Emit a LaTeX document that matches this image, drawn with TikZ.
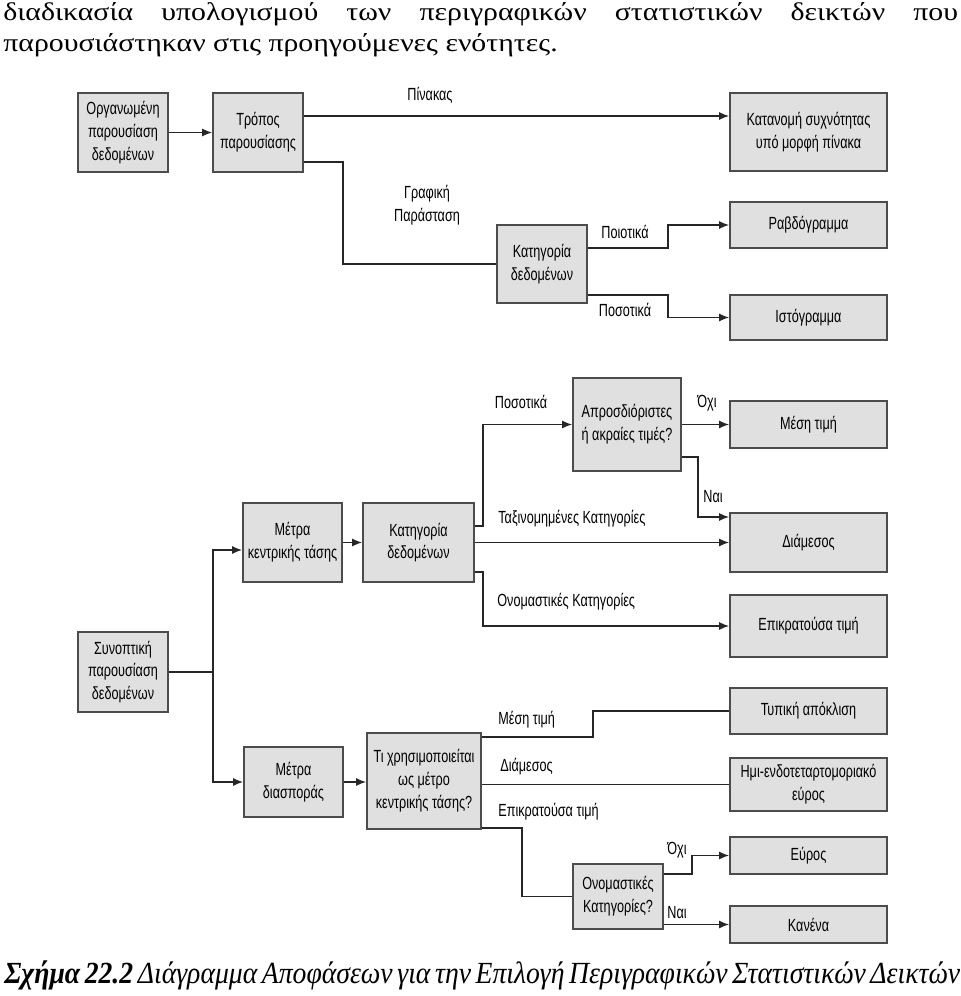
\documentclass[tikz,border=0pt]{standalone}
\usepackage{fontspec}
\setmainfont{Liberation Serif}
\newfontfamily\boxfont[FakeStretch=0.72]{Liberation Sans}
\newfontfamily\parafont[FakeStretch=1.17]{Liberation Serif}
\newfontfamily\figfont[FakeStretch=0.9]{Liberation Serif}
\usetikzlibrary{arrows.meta}
\usetikzlibrary{positioning}

\begin{document}
\begin{tikzpicture}[x=0.02cm, y=-0.02cm,
    box/.style={draw=black!70, fill=black!12, line width=1pt, align=center, inner sep=1pt,
      font=\boxfont\fontsize{10}{13}\selectfont},
    wire/.style={line width=0.8pt, black!85},
    arr/.style={wire, -{Latex[length=2mm, width=1.6mm]}},
    lbl/.style={inner sep=0pt, font=\boxfont\fontsize{10}{13}\selectfont},
    capt/.style={inner sep=0pt, anchor=base west, font=\parafont\fontsize{14.5}{17}\selectfont}]
              \useasboundingbox (0,0) rectangle (960,996);

              \node[capt] (top1) at (3,21) {\makebox[19.1cm][s]{διαδικασία υπολογισμού των περιγραφικών στατιστικών δεικτών που}};
              \node[capt] (top2) at (3,52) {παρουσιάστηκαν στις προηγούμενες ενότητες.};
              \node[capt, font=\figfont\fontsize{17.5}{18}\selectfont\itshape] (fig) at (4,983) {\makebox[19.08cm][s]{\textbf{Σχήμα 22.2} Διάγραμμα Αποφάσεων για την Επιλογή Περιγραφικών Στατιστικών Δεικτών}};

              \node[box, minimum width=1.8cm, minimum height=1.58cm] (org) at (123,132.5) {Οργανωμένη\\παρουσίαση\\δεδομένων};
              \node[box, minimum width=1.8cm, minimum height=1.58cm] (trop) at (258,132.5) {Τρόπος\\παρουσίασης};
              \node[box, minimum width=3.14cm, minimum height=1.56cm] (katan) at (808.5,132) {Κατανομή συχνότητας\\υπό μορφή πίνακα};
              \node[box, minimum width=1.8cm, minimum height=1.56cm] (kat1) at (542,264) {Κατηγορία\\δεδομένων};
              \node[box, minimum width=3.14cm, minimum height=0.92cm] (rabd) at (808.5,225) {Ραβδόγραμμα};
              \node[box, minimum width=3.14cm, minimum height=0.9cm] (isto) at (808.5,317.5) {Ιστόγραμμα};

              \node[box, minimum width=2.16cm, minimum height=1.86cm] (akr) at (627,424.5) {Απροσδιόριστες\\ή ακραίες τιμές?};
              \node[box, minimum width=3.14cm, minimum height=0.94cm] (mesi) at (808.5,424.5) {Μέση τιμή};
              \node[box, minimum width=1.98cm, minimum height=1.58cm] (kent) at (292.5,542.5) {Μέτρα\\κεντρικής τάσης};
              \node[box, minimum width=2.22cm, minimum height=1.58cm] (kat2) at (418.5,542.5) {Κατηγορία\\δεδομένων};
              \node[box, minimum width=3.14cm, minimum height=1.18cm] (diam) at (808.5,542.5) {Διάμεσος};
              \node[box, minimum width=3.14cm, minimum height=1.24cm] (epik) at (808.5,626) {Επικρατούσα τιμή};
              \node[box, minimum width=1.8cm, minimum height=1.6cm] (syn) at (123,672) {Συνοπτική\\παρουσίαση\\δεδομένων};
              \node[box, minimum width=3.14cm, minimum height=0.92cm] (typ) at (808.5,711) {Τυπική απόκλιση};
              \node[box, minimum width=1.98cm, minimum height=1.4cm] (disp) at (293.5,782) {Μέτρα\\διασποράς};
              \node[box, minimum width=2.28cm, minimum height=1.92cm] (xrisi) at (424,781) {Τι χρησιμοποιείται\\ως μέτρο\\κεντρικής τάσης?};
              \node[box, minimum width=3.14cm, minimum height=1.06cm] (hmi) at (808.5,784.5) {Ημι-ενδοτεταρτομοριακό\\εύρος};
              \node[box, minimum width=1.8cm, minimum height=1.3cm] (onom) at (618,896.5) {Ονομαστικές\\Κατηγορίες?};
              \node[box, minimum width=3.14cm, minimum height=0.74cm] (evr) at (808.5,855.5) {Εύρος};
              \node[box, minimum width=3.14cm, minimum height=0.74cm] (kan) at (808.5,924.5) {Κανένα};

              \draw[arr] (org) -- (trop);
              \draw[arr] (trop.east |- 0,116) -- (katan.west |- 0,116);
              \node[lbl] (lpin) at (430,95) {Πίνακας};
              \draw[wire] (trop.east |- 0,162) -| (343,264) -- (kat1.west);
              \node[lbl, align=center] (lgraf) at (427,205) {Γραφική\\Παράσταση};
              \draw[arr] (kat1.east |- 0,248) -| (668,225) -- (rabd.west);
              \node[lbl] (lpoi) at (625,232) {Ποιοτικά};
              \draw[arr] (kat1.east |- 0,295) -| (668,317.5) -- (isto.west);
              \node[lbl] (lpos1) at (625,310) {Ποσοτικά};

              \coordinate (split) at (213,672);
              \draw[wire] (syn.east) -- (split);
              \draw[arr] (split) |- (kent.west |- 0,550);
              \draw[arr] (split) |- (disp.west);
              \draw[arr] (kent) -- (kat2);
              \draw[arr] (kat2.east |- 0,526) -| (483,424.5) -- (akr.west);
              \node[lbl] (lpos2) at (521,402) {Ποσοτικά};
              \draw[arr] (kat2) -- (diam);
              \node[lbl, anchor=west] (ltax) at (498,519) {Ταξινομημένες Κατηγορίες};
              \draw[arr] (kat2.east |- 0,572) -| (483,626) -- (epik.west);
              \node[lbl, anchor=west] (lonom) at (497,602) {Ονομαστικές Κατηγορίες};
              \draw[arr] (akr) -- (mesi);
              \node[lbl] (lno1) at (707,403) {Όχι};
              \draw[arr] (akr.east |- 0,457) -| (698,517) -- (diam.west |- 0,517);
              \node[lbl] (lyes1) at (713,497) {Ναι};

              \draw[arr] (disp) -- (xrisi.west |- disp);
              \draw[wire] (xrisi.east |- 0,737) -| (593,711) -- (typ.west);
              \node[lbl, anchor=west] (lmt) at (498,720) {Μέση τιμή};
              \draw[wire] (xrisi.east |- hmi) -- (hmi.west);
              \node[lbl, anchor=west] (ldm) at (500,767) {Διάμεσος};
              \draw[wire] (xrisi.east |- 0,828) -| (522,896.5) -- (onom.west);
              \node[lbl, anchor=west] (lep) at (498,812) {Επικρατούσα τιμή};
              \draw[arr] (onom.east |- 0,874) -| (692,855.5) -- (evr.west);
              \node[lbl] (lno2) at (677,850) {Όχι};
              \draw[arr] (onom.east |- kan) -- (kan.west);
              \node[lbl] (lyes2) at (677,913) {Ναι};
            \end{tikzpicture}
\end{document}
